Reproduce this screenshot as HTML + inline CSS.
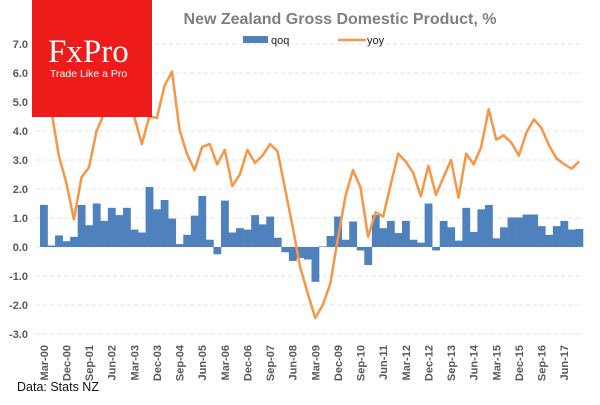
<!DOCTYPE html>
<html><head><meta charset="utf-8"><style>
body{margin:0;background:#fff;width:600px;height:400px;overflow:hidden;font-family:"Liberation Sans",sans-serif}
</style></head><body>
<svg width="600" height="400" id="chart" font-family="Liberation Sans, sans-serif"></svg>
<script>
const categories=["Mar-00","Jun-00","Sep-00","Dec-00","Mar-01","Jun-01","Sep-01","Dec-01","Mar-02","Jun-02","Sep-02","Dec-02","Mar-03","Jun-03","Sep-03","Dec-03","Mar-04","Jun-04","Sep-04","Dec-04","Mar-05","Jun-05","Sep-05","Dec-05","Mar-06","Jun-06","Sep-06","Dec-06","Mar-07","Jun-07","Sep-07","Dec-07","Mar-08","Jun-08","Sep-08","Dec-08","Mar-09","Jun-09","Sep-09","Dec-09","Mar-10","Jun-10","Sep-10","Dec-10","Mar-11","Jun-11","Sep-11","Dec-11","Mar-12","Jun-12","Sep-12","Dec-12","Mar-13","Jun-13","Sep-13","Dec-13","Mar-14","Jun-14","Sep-14","Dec-14","Mar-15","Jun-15","Sep-15","Dec-15","Mar-16","Jun-16","Sep-16","Dec-16","Mar-17","Jun-17","Sep-17","Dec-17"];
const qoq=[1.45,0.05,0.4,0.2,0.35,1.45,0.75,1.5,0.9,1.35,1.1,1.35,0.6,0.5,2.07,1.3,1.62,0.98,0.1,0.42,1.08,1.76,0.25,-0.25,1.6,0.5,0.65,0.6,1.1,0.78,1.05,0.32,-0.18,-0.48,-0.38,-0.43,-1.2,0.02,0.38,1.05,0.25,0.88,-0.12,-0.62,1.1,0.65,0.9,0.48,0.9,0.25,0.15,1.5,-0.12,0.9,0.68,0.22,1.35,0.52,1.3,1.45,0.3,0.68,1.02,1.02,1.12,1.12,0.72,0.42,0.72,0.9,0.6,0.62];
const yoy=[5.0,4.7,3.15,2.2,0.95,2.4,2.75,4.0,4.6,5.2,5.5,5.0,4.5,3.55,4.5,4.45,5.55,6.05,4.05,3.2,2.65,3.45,3.55,2.85,3.35,2.1,2.5,3.35,2.9,3.15,3.55,3.3,2.0,0.7,-0.7,-1.6,-2.45,-2.0,-1.25,0.3,1.75,2.65,2.05,0.35,1.2,1.05,2.15,3.22,2.95,2.55,1.75,2.8,1.8,2.4,3.0,1.7,3.22,2.85,3.45,4.75,3.7,3.85,3.6,3.15,3.95,4.4,4.1,3.5,3.05,2.85,2.7,2.95];
const yTicks=[-3,-2,-1,0,1,2,3,4,5,6,7];
const NS="http://www.w3.org/2000/svg";
const svg=document.getElementById('chart');
const x0=40,x1=583,band=(x1-x0)/categories.length;
const y=v=>247-v*29;
const xc=i=>x0+band*(i+0.5);
function mk(t,a,p){const e=document.createElementNS(NS,t);for(const k in a)e.setAttribute(k,a[k]);(p||svg).appendChild(e);return e;}
yTicks.forEach(t=>{
 const g=mk('line',{x1:36,x2:583,y1:y(t),y2:y(t),stroke:'#e4e4e4','stroke-dasharray':'4,3'});
 
 
 const l=mk('text',{x:28,y:y(t)+4,'text-anchor':'end','font-size':11,'font-weight':'bold',fill:'#595959'});
 l.textContent=t.toFixed(1);
 
 
});
qoq.forEach((v,i)=>{
 const r=mk('rect',{x:x0+band*i,y:Math.min(y(v),y(0)),width:band+0.3,height:Math.abs(y(v)-y(0)),fill:'#4f81bd'});
 
 
});
const pl=mk('polyline',{points:yoy.map((v,i)=>xc(i)+','+y(v)).join(' '),fill:'none',stroke:'#f79646','stroke-width':2.5,'stroke-linejoin':'round'});


categories.forEach((c,i)=>{
 if(i%3)return;
 const t=mk('text',{transform:`translate(${xc(i)+4},345) rotate(-90)`,'text-anchor':'end','font-size':11,'font-weight':'bold',fill:'#595959'});
 t.textContent=c;
 
 
});
</script>
<svg style="position:absolute;left:0;top:0" width="600" height="400" font-family="Liberation Sans, sans-serif">
<text x="340" y="24" text-anchor="middle" font-size="16" font-weight="bold" fill="#7f7f7f">New Zealand Gross Domestic Product, %</text>
<rect x="243" y="36" width="25" height="7" fill="#4f81bd"/>
<text x="271" y="44" font-size="11" fill="#222">qoq</text>
<line x1="338" y1="40" x2="366" y2="40" stroke="#f79646" stroke-width="2.5"/>
<text x="367" y="44" font-size="11" fill="#222">yoy</text>
<rect x="32" y="0" width="120" height="117" fill="#ee1b1b"/>
<text x="48" y="62" font-family="Liberation Serif, serif" font-size="33" fill="#fff">FxPro</text>
<text x="50" y="77" font-size="10.5" fill="#fff">Trade Like a Pro</text>
<text x="17" y="391" font-size="12.5" fill="#111">Data: Stats NZ</text>
</svg>
</body></html>
